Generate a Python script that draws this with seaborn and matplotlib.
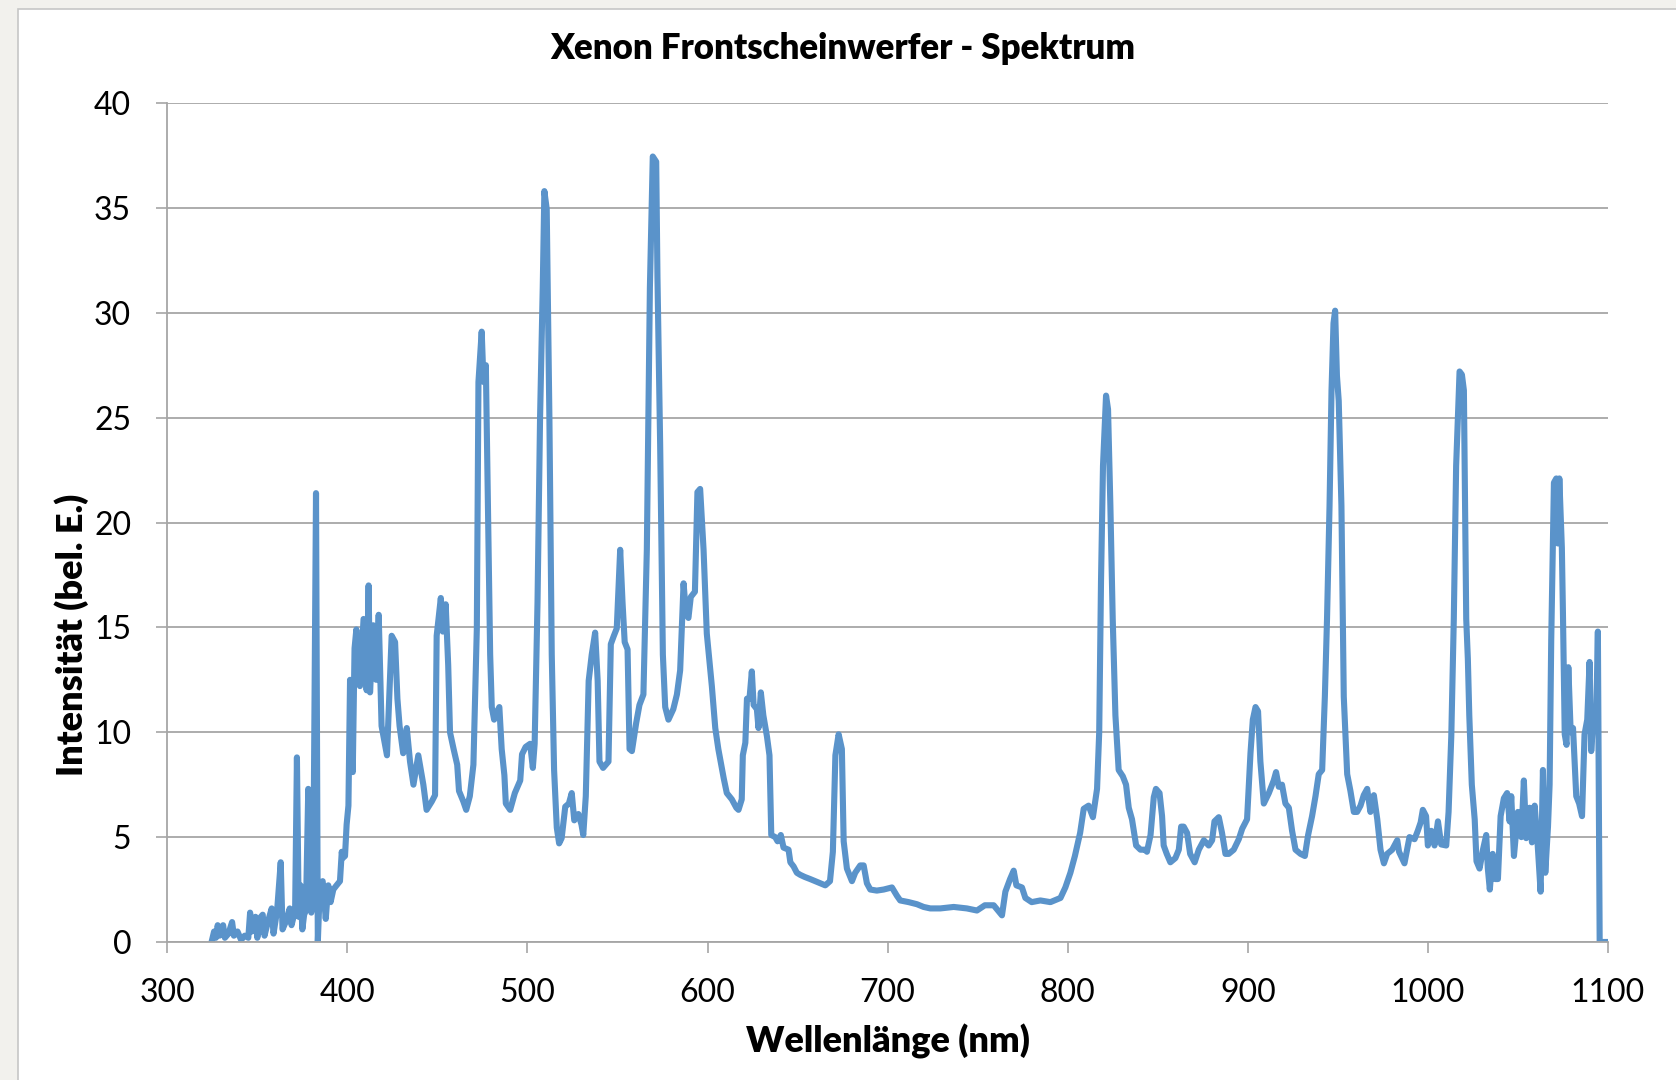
import matplotlib
matplotlib.use("Agg")
import matplotlib.pyplot as plt
from matplotlib.patches import Rectangle
import pandas as pd
import seaborn as sns

# spectrum
wavelength_nm = [
    324.6, 326, 327, 328, 329, 331, 332, 334, 336, 337, 339, 341, 343, 345, 346, 347,
    349, 350, 352, 353, 354, 356, 358, 359, 361, 363, 364, 366, 368, 369, 371, 372,
    373, 374, 375, 376, 377, 378.3, 379, 380, 381, 382.6, 383.6, 384.8, 386.3, 388,
    389.4, 390.7, 392.2, 394, 395.9, 396.9, 397.4, 398.7, 399.6, 400.6,
    401.5, 403, 404, 405, 407, 409, 410.7, 411.8, 412.6, 414.4, 416, 417.4, 419, 422,
    424.6, 426.5, 427.8, 429, 431, 433, 434.8, 436.7, 439.4, 442.2, 444, 446.9, 448.7,
    449.6, 451.9, 453, 454.6, 456, 457, 459, 461, 462, 464.4, 466, 468, 470, 471.9,
    472.8, 474.6, 475.6, 476.9, 478, 479.3, 480.2, 481.5, 483, 484.4, 485.7, 487.2,
    488, 490.4, 493, 496, 497, 499, 501.5, 503, 504, 505.6, 507, 508.5, 509.4, 510.7,
    512.2, 513.5, 514.8, 516.3, 517.6, 519, 521, 523, 524.6, 526, 528.3, 530, 531,
    532.4, 534, 535.7, 537.6, 539, 540, 542, 545, 546.3, 548, 549.6, 551.5, 552.8,
    554, 555.6, 556.7, 558, 560.4, 562.2, 564.4, 566.3, 568, 569.6, 571.5, 572.2,
    573.7, 575.2, 576.5, 578.3, 581, 583, 584.8, 586.7, 588, 589.4, 590.7, 593,
    594.4, 595.9, 597.8, 599.6, 602.4, 604.3, 606, 608, 609, 610.7, 613.5, 616,
    617.2, 619, 619.6, 621, 621.9, 623.3, 624.6, 625.6, 627.4, 628.3, 629.6, 631,
    633, 634.4, 635.4, 637.6, 638.9, 640.7, 642.2, 645, 646, 647.8, 649.6, 651.5,
    654, 657, 659.8, 662.6, 665.4, 668, 669.6, 671, 672.8, 674.6, 675.6, 677.4,
    680.2, 682, 684.8, 686.7, 688.5, 690.4, 694, 697.8, 702.4, 705.2, 707, 711.7,
    716.3, 720, 723.7, 729.3, 736.7, 744, 749.6, 754, 758.9, 763.5, 765.4, 768, 770,
    771.5, 774.6, 776.5, 780, 784.8, 790.4, 796, 798.7, 801.5, 804, 806.9, 808.9,
    811.6, 814, 816.3, 817.5, 818.5, 819.6, 821.3, 822.4, 823.7, 825, 826.5, 828.3,
    830.6, 832.4, 833.9, 835.7, 838, 840.4, 843, 844, 846, 847.8, 849, 851, 852.4,
    853.3, 855, 857, 859.8, 861.7, 863, 864.4, 866.3, 868, 870.5, 872.8, 875.6,
    878.3, 880.2, 881.5, 883.9, 885.7, 887.6, 889.4, 892.2, 895, 896.9, 899.6,
    901.5, 902.8, 904.3, 905.7, 907, 908.9, 911.7, 914.4, 915.7, 917.2, 919, 920.9,
    922.8, 924.6, 926.5, 929.3, 931.7, 933.5, 935.7, 937.6, 939.4, 941.3, 942.8,
    944, 945.4, 946.5, 947.6, 948.5, 949.5, 950.5, 952, 953.3, 955.2, 957, 958.9,
    960.7, 962.6, 964.4, 966.3, 968.1, 970, 971.9, 973.7, 975.6, 977.4, 980.2, 983,
    984, 987, 989.8, 992.6, 994.4, 996, 997.2, 999, 1000, 1001.9, 1003.7, 1005.6,
    1007.4, 1010.2, 1011.5, 1013, 1014.4, 1015.7, 1016.7, 1017.6, 1018.9, 1020,
    1021.3, 1022.2, 1023, 1024.4, 1026, 1027, 1028.7, 1030.6, 1032.4, 1033.3,
    1034.4, 1036, 1037.4, 1038.9, 1040.4, 1042.2, 1044, 1045.4, 1046.3, 1047.8,
    1050, 1051.9, 1053.3, 1054.6, 1056.5, 1057.8, 1059.3, 1061, 1062.6, 1063.9,
    1065.2, 1066.7, 1067.6, 1068.5, 1070, 1071.3, 1072.2, 1073, 1074.4, 1075, 1076,
    1077, 1078, 1079.3, 1080.6, 1082.4, 1084, 1085.6, 1087, 1088.5, 1089.8, 1090.7,
    1092, 1093.5, 1094.4, 1095.4, 1100,
]
intensity = [
    0.0, 0.5, 0.2, 0.8, 0.3, 0.8, 0.2, 0.4, 0.95, 0.3, 0.5, 0.1, 0.3, 0.2, 1.4, 0.5,
    1.2, 0.2, 1.2, 1.3, 0.3, 1.0, 1.6, 0.4, 1.5, 3.8, 0.6, 1.0, 1.6, 0.8, 1.5, 8.8,
    1.2, 2.7, 0.6, 1.3, 1.5, 7.3, 2.0, 1.4, 2.2, 21.4, 0.0, 2.8, 2.9, 1.1,
    2.7, 1.9, 2.5, 2.7, 2.9, 4.3, 4.0, 4.1, 5.6, 6.5,
    12.5, 8.1, 14.0, 14.9, 12.2, 15.4, 12.0, 17.0, 11.9, 15.1, 12.5, 15.6, 10.3, 8.9,
    14.6, 14.3, 11.6, 10.3, 9.0, 10.2, 8.6, 7.5, 8.9, 7.5, 6.3, 6.7, 7.0,
    14.6, 16.4, 14.8, 16.1, 13.2, 10.0, 9.2, 8.45, 7.2, 6.7, 6.3, 6.95, 8.45, 14.95,
    26.7, 29.1, 26.7, 27.5, 21.2, 13.7, 11.2, 10.6, 10.95, 11.2, 9.2, 7.95,
    6.6, 6.3, 7.1, 7.7, 8.95, 9.3, 9.45, 8.3, 9.45, 16.2, 24.95, 31.2, 35.8, 34.95,
    24.95, 13.7, 8.2, 5.45, 4.7, 4.95, 6.45, 6.6, 7.1, 5.8, 6.1, 5.6, 5.1,
    6.95, 12.45, 13.7, 14.75, 12.45, 8.6, 8.3, 8.6, 14.2, 14.6, 14.95, 18.7, 16.2,
    14.3, 13.95, 9.2, 9.1, 10.45, 11.3, 11.8, 18.7, 31.2, 37.45, 37.2, 31.7,
    23.7, 13.7, 11.2, 10.6, 11.1, 11.8, 12.95, 17.1, 15.7, 15.45, 16.45, 16.7,
    21.45, 21.6, 18.7, 14.7, 12.2, 10.2, 9.2, 8.25, 7.8, 7.1, 6.8, 6.4,
    6.3, 6.8, 8.9, 9.5, 11.6, 11.6, 12.9, 11.3, 11.1, 10.2, 11.9, 10.8,
    9.8, 8.9, 5.1, 5.0, 4.8, 5.1, 4.5, 4.4, 3.8, 3.6, 3.3, 3.2,
    3.1, 3.0, 2.9, 2.8, 2.7, 2.9, 4.3, 8.9, 9.9, 9.2, 4.8, 3.5,
    2.9, 3.3, 3.65, 3.65, 2.8, 2.5, 2.45, 2.5, 2.6, 2.2, 1.98, 1.9,
    1.8, 1.67, 1.6, 1.6, 1.67, 1.6, 1.5, 1.75, 1.75, 1.27, 2.4, 3.0, 3.4,
    2.7, 2.6, 2.1, 1.9, 1.98, 1.9, 2.1, 2.6, 3.3, 4.1, 5.2, 6.35,
    6.5, 5.95, 7.3, 10.0, 17.2, 22.7, 26.05, 25.4, 20.8, 15.4, 10.8, 8.2,
    7.9, 7.5, 6.4, 5.85, 4.6, 4.4, 4.4, 4.3, 5.1, 6.9, 7.3, 7.1, 6.0,
    4.6, 4.2, 3.8, 4.0, 4.4, 5.5, 5.5, 5.2, 4.2, 3.8, 4.4, 4.85,
    4.6, 4.85, 5.75, 5.95, 5.2, 4.2, 4.2, 4.4, 4.9, 5.4, 5.85,
    9.0, 10.6, 11.2, 11.0, 8.6, 6.6, 7.1, 7.7, 8.1, 7.4, 7.5, 6.6,
    6.4, 5.3, 4.4, 4.2, 4.1, 5.1, 6.0, 6.95, 8.0, 8.2, 11.7,
    15.4, 20.8, 26.3, 29.5, 30.1, 27.0, 25.8, 20.8, 11.7, 8.0, 7.2, 6.2,
    6.2, 6.5, 7.0, 7.3, 6.2, 7.0, 5.85, 4.4, 3.75, 4.2, 4.4, 4.85,
    4.3, 3.75, 5.0, 4.9, 5.3, 5.7, 6.3, 6.0, 4.6, 5.3, 4.6, 5.75,
    4.65, 4.6, 6.2, 9.8, 15.4, 22.7, 25.0, 27.2, 27.05, 26.3,
    15.4, 13.5, 10.8, 7.5, 5.85, 3.85, 3.5, 4.4, 5.1, 3.5,
    2.5, 4.2, 3.0, 3.0, 6.0, 6.85, 7.1, 5.75, 6.95, 4.1,
    6.2, 5.0, 7.7, 4.95, 6.4, 4.75, 6.5, 4.6, 2.4, 8.2,
    3.3, 5.5, 7.5, 14.4, 21.9, 22.1, 19.0, 22.1, 18.8, 15.7, 9.9,
    9.4, 13.1, 10.0, 10.2, 6.95, 6.6, 6.0, 9.9, 10.6, 13.35, 9.1,
    10.8, 10.8, 14.8, 0.0, 0.0,
]

x_ticks = [300, 400, 500, 600, 700, 800, 900, 1000, 1100]
y_ticks = [0, 5, 10, 15, 20, 25, 30, 35, 40]

title = "Xenon Frontscheinwerfer - Spektrum"
x_label = "Wellenlänge (nm)"
y_label = "Intensität (bel. E.)"

line_color = "#5a93ca"
grid_color = "#a6a6a6"

sns.set_theme(style="white")
plt.rcParams["font.family"] = ["Lato", "DejaVu Sans"]

df = pd.DataFrame({"wavelength": wavelength_nm, "intensity": intensity})

fig = plt.figure(figsize=(16.76, 10.80), dpi=100, facecolor="#f2f1ed")
# white chart area with thin border, like the spreadsheet export
panel = Rectangle((18 / 1676, -0.01), 1.0, 1.01 - 9 / 1080, transform=fig.transFigure,
                  facecolor="white", edgecolor="#c6c6c6", linewidth=1.2, zorder=-10)
fig.patches.append(panel)

ax = fig.add_axes([0.0998, 0.1278, 0.8596, 0.7768])
sns.lineplot(data=df, x="wavelength", y="intensity", ax=ax, color=line_color,
             linewidth=4.4, estimator=None, sort=False)
ax.lines[0].set_solid_joinstyle("round")
ax.lines[0].set_solid_capstyle("round")

ax.set_xlim(300, 1100)
ax.set_ylim(0, 40)
ax.set_xticks(x_ticks)
ax.set_yticks(y_ticks)
ax.set_xlabel("")
ax.set_ylabel("")
ax.yaxis.grid(True, color=grid_color, linewidth=1.3)
ax.xaxis.grid(False)
for side in ("top", "right"):
    ax.spines[side].set_visible(False)
for side in ("left", "bottom"):
    ax.spines[side].set_color(grid_color)
    ax.spines[side].set_linewidth(1.3)
ax.tick_params(axis="both", bottom=True, left=True, direction="out", length=8,
               width=1.2, color=grid_color, labelsize=23, labelcolor="black", pad=18)

fig.text(0.503, 0.955, title, ha="center", va="center", fontsize=25,
         fontweight="heavy", color="black")
fig.text(0.530, 0.036, x_label, ha="center", va="center", fontsize=26,
         fontweight="heavy", color="black")
fig.text(0.0427, 0.412, y_label, ha="center", va="center", rotation=90,
         fontsize=26, fontweight="heavy", color="black")

fig.savefig("out.png", dpi=100, facecolor=fig.get_facecolor())
